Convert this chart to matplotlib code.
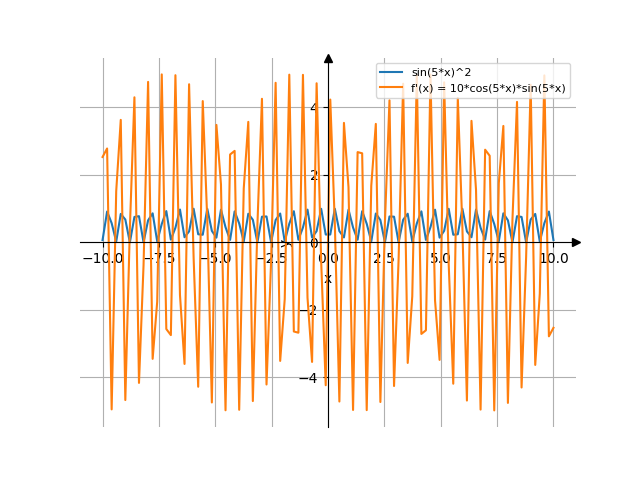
import numpy as np
import matplotlib
matplotlib.use("Agg")
import matplotlib.pyplot as plt

x_start, x_stop, n_points = -10.0, 10.0, 100

sin_sq = [
    0.069, 0.915, 0.570, 0.024, 0.844, 0.678, 0.002, 0.755, 0.777, 0.005,
    0.654, 0.862, 0.032, 0.545, 0.929, 0.082, 0.434, 0.975, 0.153, 0.326,
    0.998, 0.241, 0.227, 0.996, 0.342, 0.141, 0.970, 0.451, 0.073, 0.920,
    0.562, 0.026, 0.850, 0.670, 0.003, 0.762, 0.769, 0.004, 0.662, 0.856,
    0.029, 0.553, 0.925, 0.078, 0.442, 0.972, 0.147, 0.334, 0.997, 0.234,
    0.234, 0.997, 0.334, 0.147, 0.972, 0.442, 0.078, 0.925, 0.553, 0.029,
    0.856, 0.662, 0.004, 0.769, 0.762, 0.003, 0.670, 0.850, 0.026, 0.562,
    0.920, 0.073, 0.451, 0.970, 0.141, 0.342, 0.996, 0.227, 0.241, 0.998,
    0.326, 0.153, 0.975, 0.434, 0.082, 0.929, 0.545, 0.032, 0.862, 0.654,
    0.005, 0.777, 0.755, 0.002, 0.678, 0.844, 0.024, 0.570, 0.915, 0.069,
]

deriv = [
    2.532, 2.784, -4.950, 1.518, 3.632, -4.673, 0.429, 4.301, -4.165, -0.682,
    4.758, -3.452, -1.759, 4.980, -2.568, -2.748, 4.956, -1.558, -3.603, 4.688,
    -0.471, -4.279, 4.189, 0.640, -4.745, 3.483, 1.719, -4.976, 2.605, 2.713,
    -4.962, 1.598, 3.573, -4.703, 0.513, 4.257, -4.212, -0.597, 4.731, -3.513,
    -1.679, 4.972, -2.641, -2.677, 4.967, -1.639, -3.543, 4.717, -0.556, -4.234,
    4.234, 0.556, -4.717, 3.543, 1.639, -4.967, 2.677, 2.641, -4.972, 1.679,
    3.513, -4.731, 0.597, 4.212, -4.257, -0.513, 4.703, -3.573, -1.598, 4.962,
    -2.713, -2.605, 4.976, -1.719, -3.483, 4.745, -0.640, -4.189, 4.279, 0.471,
    -4.688, 3.603, 1.558, -4.956, 2.748, 2.568, -4.980, 1.759, 3.452, -4.758,
    0.682, 4.165, -4.301, -0.429, 4.673, -3.632, -1.518, 4.950, -2.784, -2.532,
]

labels = ["sin(5*x)^2", "f'(x) = 10*cos(5*x)*sin(5*x)"]

x = np.linspace(x_start, x_stop, n_points)

fig, ax = plt.subplots(figsize=(6.4, 4.8), dpi=100)
ax.plot(x, sin_sq, label=labels[0])
ax.plot(x, deriv, label=labels[1])

ax.spines["left"].set_position("zero")
ax.spines["bottom"].set_position("zero")
ax.spines["right"].set_color("none")
ax.spines["top"].set_color("none")
ax.plot(1, 0, ">k", transform=ax.get_yaxis_transform(), clip_on=False)
ax.plot(0, 1, "^k", transform=ax.get_xaxis_transform(), clip_on=False)
ax.grid(True)
ax.set_xlabel("x")
ax.set_ylabel("y")
ax.legend(loc="upper right", fontsize=8)

fig.savefig("out.png", dpi=100)
